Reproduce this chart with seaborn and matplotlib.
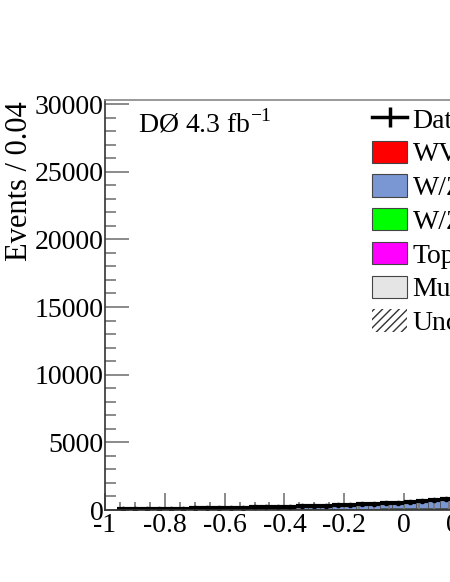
import numpy as np
import pandas as pd
import matplotlib
matplotlib.use("Agg")
import matplotlib.pyplot as plt
import seaborn as sns
from matplotlib.patches import Patch
from matplotlib.lines import Line2D
from matplotlib.ticker import MultipleLocator

# bin centres (0.04 wide) visible in the picture
centers = [-0.94, -0.90, -0.86, -0.82, -0.78, -0.74, -0.70, -0.66, -0.62, -0.58,
           -0.54, -0.50, -0.46, -0.42, -0.38, -0.34, -0.30, -0.26, -0.22, -0.18,
           -0.14, -0.10, -0.06, -0.02, 0.02, 0.06, 0.10, 0.14]

# data counts per bin
data_counts = [60, 70, 80, 90, 100, 110, 125, 135, 150, 165, 180, 195, 215, 235,
               255, 280, 300, 330, 360, 390, 420, 460, 500, 550, 600, 660, 720, 790]

# background components per bin
wv = [1, 1, 2, 2, 2, 2, 3, 3, 3, 4, 4, 4, 5, 5, 6, 6, 7, 7, 8, 9, 9, 10, 11, 12, 13, 15, 16, 18]
wz_lf = [44, 52, 60, 67, 75, 82, 93, 101, 112, 123, 134, 146, 160, 175, 190, 209,
         224, 246, 268, 291, 313, 343, 373, 410, 448, 492, 537, 589]
wz_hf = [5, 6, 6, 7, 8, 9, 10, 11, 12, 13, 14, 16, 17, 19, 20, 22, 24, 26, 29, 31, 34, 37, 40, 44, 48, 53, 58, 63]
top = [2, 2, 2, 3, 3, 3, 4, 4, 5, 5, 5, 6, 6, 7, 8, 8, 9, 10, 11, 12, 13, 14, 15, 17, 18, 20, 22, 24]
multijet = [8, 9, 10, 11, 12, 14, 15, 16, 18, 20, 23, 23, 27, 29, 31, 35, 36, 41, 44, 47, 51, 56, 61, 67, 73, 80, 87, 96]

process_names = ["WV", "W/Z+lp", "W/Z+hf", "Top", "Multijet"]
process_colors = ["#ff0000", "#7b97d3", "#00ff00", "#ff00ff", "#e5e5e5"]

rows = []
for name, vals in zip(process_names, [wv, wz_lf, wz_hf, top, multijet]):
    for c, v in zip(centers, vals):
        rows.append({"x": c, "events": v, "process": name})
df = pd.DataFrame(rows)

plt.rcParams["font.family"] = ["Liberation Serif", "DejaVu Serif"]
plt.rcParams["mathtext.fontset"] = "custom"
plt.rcParams["mathtext.rm"] = "Liberation Serif"

fig = plt.figure(figsize=(4.5, 5.82), dpi=100)
ax = fig.add_axes([105 / 450, 72 / 582, 598 / 450, 410 / 582])

sns.histplot(data=df, x="x", weights="events", hue="process", hue_order=process_names,
             palette=dict(zip(process_names, process_colors)), multiple="stack",
             binwidth=0.04, binrange=(-0.96, 0.16), element="bars",
             edgecolor="#444444", linewidth=0.5, alpha=1, legend=False, ax=ax)

# uncertainty band on total
edges = np.round(np.arange(-0.96, 0.161, 0.04), 2)
total = np.array(wv) + np.array(wz_lf) + np.array(wz_hf) + np.array(top) + np.array(multijet)
unc = 0.06 * total
ax.fill_between(edges, np.append(total - unc, (total - unc)[-1]),
                np.append(total + unc, (total + unc)[-1]), step="post",
                facecolor="none", edgecolor="#333333", hatch="////", linewidth=0)

ax.errorbar(centers, data_counts, xerr=0.02, yerr=np.sqrt(data_counts), fmt="o",
            color="black", ms=3, elinewidth=3, capsize=0)

ax.set_xlim(-1, 1)
ax.set_ylim(0, 30300)
ax.set_xlabel("")
ax.set_ylabel("")
ax.xaxis.set_major_locator(MultipleLocator(0.2))
ax.xaxis.set_minor_locator(MultipleLocator(0.05))
ax.yaxis.set_major_locator(MultipleLocator(5000))
ax.yaxis.set_minor_locator(MultipleLocator(1000))
ax.xaxis.set_major_formatter(plt.FuncFormatter(lambda v, p: f"{round(v, 2) + 0:g}"))
ax.tick_params(which="both", direction="in", colors="#777777", labelcolor="black",
               labelsize=20, width=1.2)
ax.tick_params(axis="x", which="major", length=12, pad=2)
ax.tick_params(axis="x", which="minor", length=6)
ax.tick_params(axis="y", which="major", length=17, pad=1)
ax.tick_params(axis="y", which="minor", length=8)
for s in ax.spines.values():
    s.set_color("#888888")
    s.set_linewidth(1.2)
ax.spines["left"].set_color("#333333")
ax.spines["bottom"].set_color("#333333")

fig.text(20 / 450, 1 - 181 / 582, "Events / 0.04", rotation=90, ha="center",
         va="center", fontsize=22)
ax.text(0.055, 0.922, "DØ 4.3 fb$^{\\mathregular{-1}}$", transform=ax.transAxes,
        fontsize=20, va="baseline", ha="left")

handles = [Line2D([0], [0], color="black", lw=2.5, marker="|", ms=14, mew=2.5)]
handles += [Patch(facecolor=c, edgecolor="#444444", lw=0.8) for c in process_colors]
handles += [Patch(facecolor="white", edgecolor="#333333", hatch="////", lw=0)]
labels = ["Data"] + process_names + ["Uncertainty"]
ax.legend(handles, labels, loc="upper left", bbox_to_anchor=(0.4465, 0.983),
          frameon=False, fontsize=20, handlelength=1.26, handleheight=0.86,
          handletextpad=0.2, labelspacing=0.25, borderpad=0, borderaxespad=0)

fig.savefig("out.png", dpi=100)
